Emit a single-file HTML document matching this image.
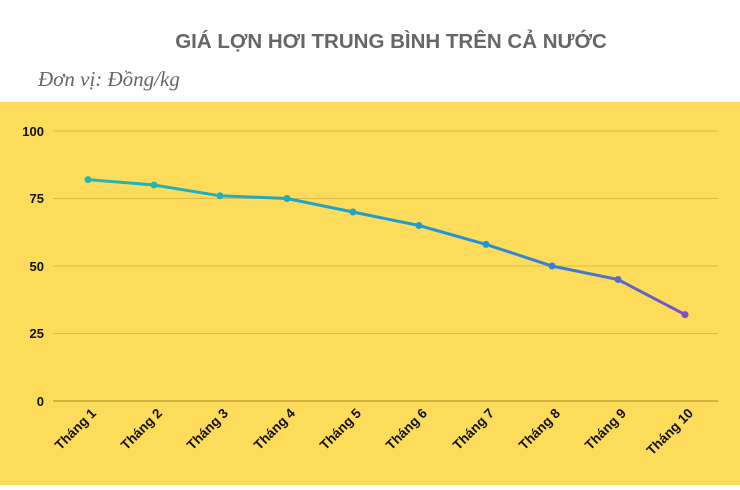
<!DOCTYPE html>
<html><head><meta charset="utf-8"><style>
body{margin:0;width:740px;height:485px;background:#fff;overflow:hidden}
</style></head><body>
<svg width="740" height="485" xmlns="http://www.w3.org/2000/svg" font-family="Liberation Sans, sans-serif">
<defs><linearGradient id="g" x1="88" x2="685" y1="0" y2="0" gradientUnits="userSpaceOnUse">
<stop offset="0" stop-color="#22b8b4"/><stop offset="0.55" stop-color="#1f9ad0"/><stop offset="0.8" stop-color="#3a7fd0"/><stop offset="1" stop-color="#7a55c0"/></linearGradient></defs>
<text x="391" y="48" text-anchor="middle" font-size="20.5" font-weight="bold" fill="#666">GIÁ LỢN HƠI TRUNG BÌNH TRÊN CẢ NƯỚC</text>
<text x="38" y="86" font-family="Liberation Serif, serif" font-style="italic" font-size="21" fill="#666">Đơn vị: Đồng/kg</text>
<rect x="0" y="102" width="740" height="383" fill="#fddc5c"/>
<g stroke="#dcbc48" stroke-width="1">
<line x1="53" x2="718" y1="131" y2="131"/><line x1="53" x2="718" y1="198.5" y2="198.5"/><line x1="53" x2="718" y1="266" y2="266"/><line x1="53" x2="718" y1="333.5" y2="333.5"/></g>
<line x1="53" x2="718" y1="401" y2="401" stroke="#b89a30" stroke-width="1.3"/>
<g font-size="13" font-weight="bold" fill="#111" text-anchor="end">
<text x="44" y="136">100</text><text x="44" y="203">75</text><text x="44" y="271">50</text><text x="44" y="338">25</text><text x="44" y="406">0</text></g>
<polyline fill="none" stroke="url(#g)" stroke-width="3" points="88,179.6 154,185 220,195.8 287,198.5 353,212 419,225.5 486,244.4 552,266 618,279.5 685,314.6"/>
<g>
<circle cx="88" cy="179.6" r="3.5" fill="#22b8b4"/><circle cx="154" cy="185" r="3.5" fill="#22b6b6"/><circle cx="220" cy="195.8" r="3.5" fill="#21b0bc"/><circle cx="287" cy="198.5" r="3.5" fill="#20aac2"/><circle cx="353" cy="212" r="3.5" fill="#20a4c8"/><circle cx="419" cy="225.5" r="3.5" fill="#1f9ecd"/><circle cx="486" cy="244.4" r="3.5" fill="#1f9ad0"/><circle cx="552" cy="266" r="3.5" fill="#3a80d0"/><circle cx="618" cy="279.5" r="3.5" fill="#5a6cc8"/><circle cx="685" cy="314.6" r="3.5" fill="#7a55c0"/></g>
<g font-size="13.5" font-weight="bold" fill="#111" text-anchor="end">
<text transform="translate(97,414) rotate(-45)">Tháng 1</text>
<text transform="translate(163,414) rotate(-45)">Tháng 2</text>
<text transform="translate(229,414) rotate(-45)">Tháng 3</text>
<text transform="translate(296,414) rotate(-45)">Tháng 4</text>
<text transform="translate(362,414) rotate(-45)">Tháng 5</text>
<text transform="translate(428,414) rotate(-45)">Tháng 6</text>
<text transform="translate(495,414) rotate(-45)">Tháng 7</text>
<text transform="translate(561,414) rotate(-45)">Tháng 8</text>
<text transform="translate(627,414) rotate(-45)">Tháng 9</text>
<text transform="translate(694,414) rotate(-45)">Tháng 10</text>
</g>
</svg>
</body></html>
